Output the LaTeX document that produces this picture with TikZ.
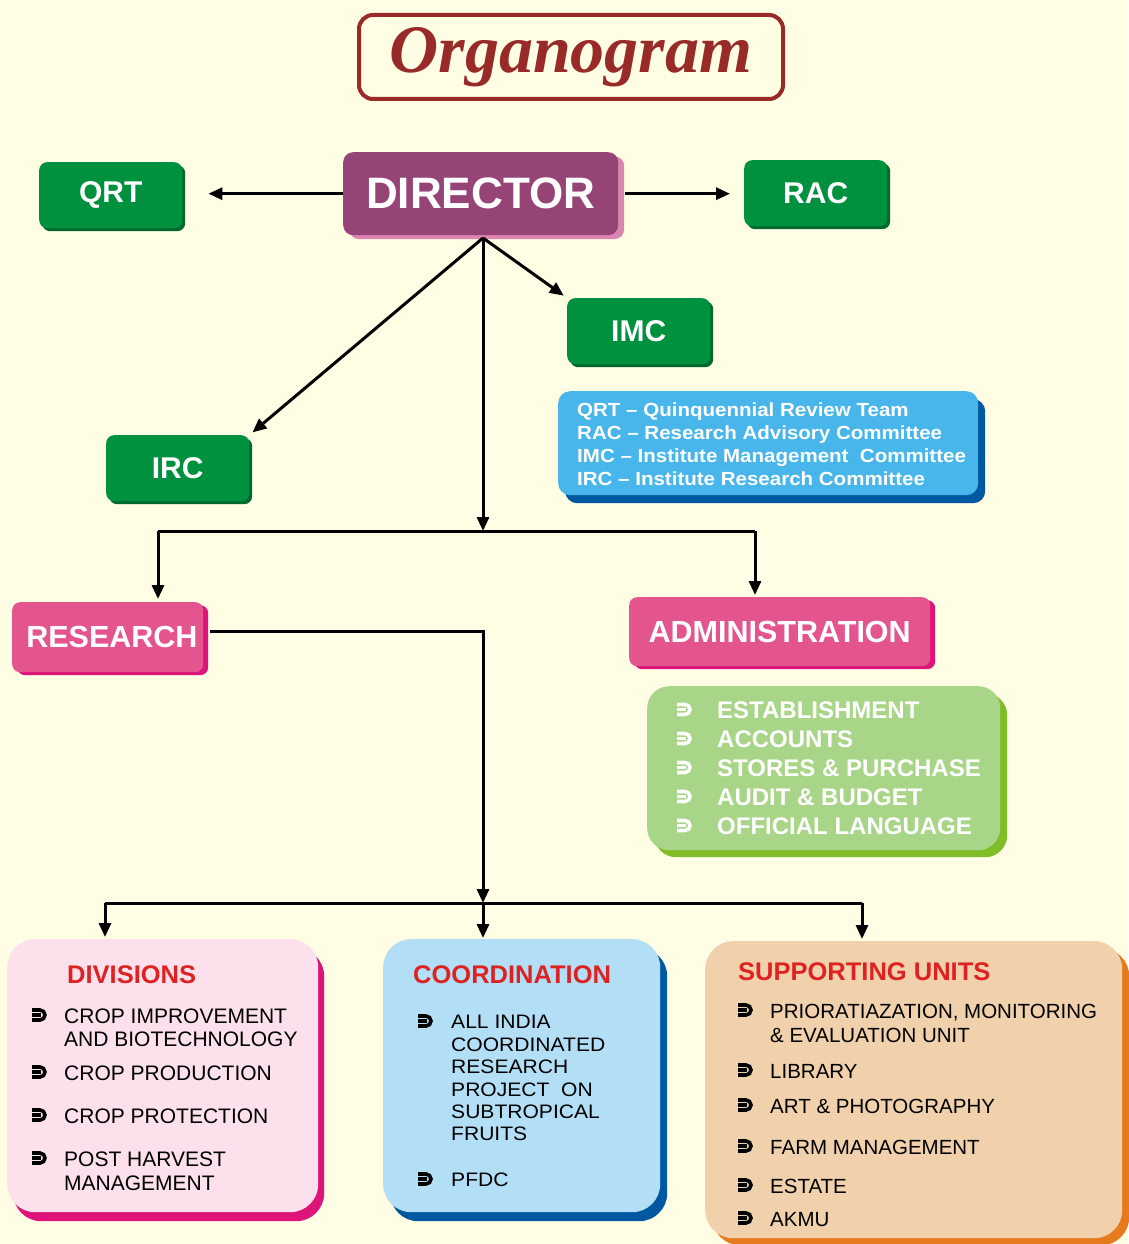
\documentclass[tikz,border=0pt]{standalone}
\usepackage{fontspec}
\setmainfont{Liberation Sans}
\newfontfamily\titlefont{Liberation Serif}
\newfontfamily\widefont[FakeStretch=1.08]{Liberation Sans}
\usetikzlibrary{arrows.meta,shadows}

\definecolor{pagebg}{RGB}{255,253,228}
\definecolor{titlered}{RGB}{152,42,40}
\definecolor{headred}{RGB}{222,34,34}
\definecolor{dirfill}{RGB}{150,68,118}
\definecolor{dirshade}{RGB}{218,134,176}
\definecolor{boxgreen}{RGB}{0,145,63}
\definecolor{boxgreendark}{RGB}{0,105,45}
\definecolor{unitpink}{RGB}{228,84,142}
\definecolor{unitpinkdark}{RGB}{222,20,122}
\definecolor{legblue}{RGB}{72,182,234}
\definecolor{legbluedark}{RGB}{0,88,160}
\definecolor{admgreen}{RGB}{168,213,136}
\definecolor{admgreendark}{RGB}{128,190,40}
\definecolor{divfill}{RGB}{252,224,236}
\definecolor{coordfill}{RGB}{178,222,246}
\definecolor{suppfill}{RGB}{240,209,172}
\definecolor{suppdark}{RGB}{230,122,30}

\tikzset{
  bulletmark/.pic={
    \draw[line width=3.6pt] (-8,-5) -- (0,-5) arc[start angle=-90, end angle=90, radius=5] -- (-8,5);
    \draw[line width=3.2pt] (-8,0) -- (1,0);
  }
}

\begin{document}
\begin{tikzpicture}[x=1pt, y=-1pt,
  every node/.style={inner sep=0pt, font=\bfseries},
  >={Triangle[length=14pt,width=12pt]},
  link/.style={line width=3pt, black},
  gbox/.style={fill=boxgreen, rounded corners=8pt, text=white, anchor=north west,
    minimum width=143pt, minimum height=66pt, font=\fontsize{30}{34}\selectfont\bfseries,
    drop shadow={shadow xshift=3pt, shadow yshift=-3pt, fill=boxgreendark, opacity=1}},
  pbox/.style={fill=unitpink, rounded corners=8pt, text=white, anchor=north west,
    minimum height=70pt, font=\fontsize{30.5}{34}\selectfont\bfseries,
    drop shadow={shadow xshift=5pt, shadow yshift=-3pt, fill=unitpinkdark, opacity=1}},
  bigbox/.style={anchor=north west, rounded corners=28pt},
  head/.style={anchor=base west, text=headred, font=\fontsize{25.5}{30}\selectfont\bfseries},
  item/.style={anchor=base west, text=black, font=\fontsize{21}{24}\selectfont},
  legtext/.style={anchor=base west, text=white, font=\widefont\fontsize{19}{23}\selectfont\bfseries},
  admtext/.style={anchor=base west, text=white, font=\fontsize{24}{29}\selectfont\bfseries}]

  \useasboundingbox (0,0) rectangle (1128,1244);
  \fill[pagebg] (0,0) rectangle (1128,1244);

  %% Title
  \node[draw=titlered, line width=4pt, rounded corners=14pt, anchor=north west,
    minimum width=424pt, minimum height=84pt, text=titlered,
    font=\titlefont\fontsize{68}{70}\selectfont\bfseries\itshape] (title) at (357,13) {Organogram};

  %% Top: director and committees
  \node[fill=dirfill, rounded corners=10pt, text=white, anchor=north west,
    minimum width=275pt, minimum height=83pt, font=\fontsize{44}{50}\selectfont\bfseries,
    drop shadow={shadow xshift=6pt, shadow yshift=-4pt, fill=dirshade, opacity=1}] (director) at (343,152) {DIRECTOR};
  \node[gbox] (qrt) at (39,162) {QRT};
  \node[gbox] (rac) at (744,160) {RAC};
  \node[gbox] (imc) at (567,298) {IMC};
  \node[gbox] (irc) at (106,435) {IRC};

  % legend of the abbreviations
  \node[bigbox, fill=legblue, rounded corners=12pt, minimum width=420pt, minimum height=104pt,
    drop shadow={shadow xshift=7pt, shadow yshift=-8pt, fill=legbluedark, opacity=1}] (legend) at (558,391) {};
  \foreach \txt [count=\i from 0] in {QRT – Quinquennial Review Team,
      RAC – Research Advisory Committee, IMC – Institute Management~ Committee,
      IRC – Institute Research Committee}
    \node[legtext] (leg\i) at (577,416+23*\i) {\txt};

  %% Middle: research and administration
  \node[pbox, minimum width=191pt] (research) at (12,602) {~RESEARCH};
  \node[pbox, minimum width=301pt, minimum height=69pt] (admin) at (629,597) {ADMINISTRATION};

  \node[bigbox, fill=admgreen, rounded corners=22pt, minimum width=353pt, minimum height=164pt,
    drop shadow={shadow xshift=7pt, shadow yshift=-7pt, fill=admgreendark, opacity=1}] (admlist) at (647,686) {};
  \foreach \txt [count=\i from 0] in {ESTABLISHMENT, ACCOUNTS, STORES \& PURCHASE,
      AUDIT \& BUDGET, OFFICIAL LANGUAGE} {
    \node[admtext] (adm\i) at (717,718+29*\i) {\txt};
    \pic[white] at (685,709.5+29*\i) {bulletmark};
  }

  %% Bottom: divisions, coordination, supporting units
  \node[bigbox, fill=divfill, minimum width=311pt, minimum height=273pt,
    drop shadow={shadow xshift=6pt, shadow yshift=-9pt, fill=unitpinkdark, opacity=1}] (divisions) at (7,939) {};
  \node[head] (divhead) at (67,983) {DIVISIONS};
  \foreach \y/\txt [count=\i] in {1023/CROP IMPROVEMENT, 1046/AND BIOTECHNOLOGY,
      1080/CROP PRODUCTION, 1123/CROP PROTECTION, 1166/POST HARVEST, 1190/MANAGEMENT}
    \node[item] (div\i) at (64,\y) {\txt};
  \foreach \y in {1015,1072,1115,1158}
    \pic[black] at (40,\y) {bulletmark};

  \node[bigbox, fill=coordfill, minimum width=277pt, minimum height=273pt,
    drop shadow={shadow xshift=7pt, shadow yshift=-9pt, fill=legbluedark, opacity=1}] (coord) at (383,939) {};
  \node[head] (coordhead) at (413,983) {COORDINATION};
  \foreach \y/\txt [count=\i] in {1028/ALL INDIA, 1051/COORDINATED, 1073/RESEARCH,
      1096/PROJECT~ ON, 1118/SUBTROPICAL, 1140/FRUITS, 1186/PFDC}
    \node[item, font=\widefont\fontsize{19.5}{22}\selectfont] (coord\i) at (451,\y) {\txt};
  \foreach \y in {1021,1179}
    \pic[black] at (426,\y) {bulletmark};

  \node[bigbox, fill=suppfill, minimum width=417pt, minimum height=297pt,
    drop shadow={shadow xshift=7pt, shadow yshift=-7pt, fill=suppdark, opacity=1}] (support) at (705,941) {};
  \node[head] (supphead) at (738,980) {SUPPORTING UNITS};
  \foreach \y/\txt [count=\i] in {{1018/PRIORATIAZATION, MONITORING}, 1042/\& EVALUATION UNIT,
      1078/LIBRARY, 1113/ART \& PHOTOGRAPHY, 1154/FARM MANAGEMENT, 1193/ESTATE, 1226/AKMU}
    \node[item, font=\fontsize{20.5}{24}\selectfont] (supp\i) at (770,\y) {\txt};
  \foreach \y in {1010,1070,1105,1146,1185,1218}
    \pic[black] at (746,\y) {bulletmark};

  %% Connectors
  \draw[link, ->, shorten >=26pt] (director.west) -- (director.west -| qrt.east);
  \draw[link, ->, shorten <=7pt, shorten >=14pt] (director.east) -- (director.east -| rac.west);

  \coordinate (hub) at (483,238);
  \coordinate (split) at (483,531);
  \draw[link, ->, shorten >=4pt] (hub) -- (imc.north west);
  \draw[link, ->, shorten >=4pt] (hub) -- (irc.north east);

  \coordinate (rdrop) at (158,531);
  \coordinate (adrop) at (755,531);
  \draw[link] (rdrop) -- (adrop);
  \draw[link, ->] (hub) -- (split);
  \draw[link, ->, shorten >=3pt] (rdrop) -- (rdrop |- research.north);
  \draw[link, ->, shorten >=2pt] (adrop) -- (adrop |- admin.north);

  % research feeds the three groups below
  \coordinate (rturn) at (483,631);
  \coordinate (join) at (483,903);
  \coordinate (ddrop) at (105,903);
  \coordinate (sdrop) at (862,903);
  \draw[link] (ddrop) -- (sdrop);
  \draw[link, ->, shorten <=7pt] (research.east |- rturn) -- (rturn) -- (join);
  \draw[link, ->, shorten >=2pt] (ddrop) -- (ddrop |- divisions.north);
  \draw[link, ->, shorten >=1pt] (join) -- (join |- coord.north);
  \draw[link, ->, shorten >=2pt] (sdrop) -- (sdrop |- support.north);

\end{tikzpicture}
\end{document}
